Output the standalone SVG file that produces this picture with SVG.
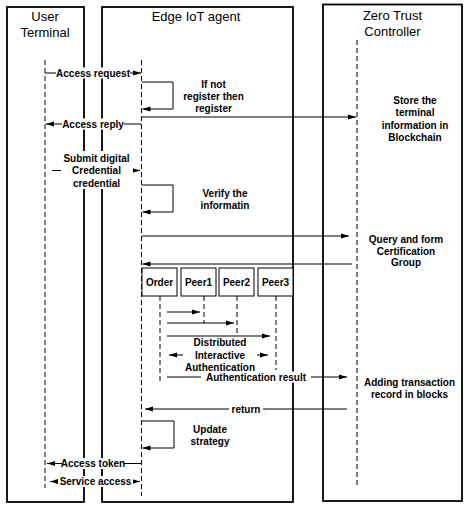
<svg xmlns="http://www.w3.org/2000/svg" width="469" height="508" viewBox="0 0 469 508">
<style>
.box{fill:none;stroke:#000;stroke-width:1.8}
.pbox{fill:#fff;stroke:#000;stroke-width:1}
.life{fill:none;stroke:#000;stroke-width:1;stroke-dasharray:5 3}
.msg{fill:none;stroke:#000;stroke-width:1}
.title{font-family:"Liberation Sans",Arial,sans-serif;font-size:13px;text-anchor:middle;dominant-baseline:central;fill:#000}
.lbl{font-family:"Liberation Sans",Arial,sans-serif;font-size:10px;font-weight:bold;text-anchor:middle;dominant-baseline:central;fill:#000}
.bg{fill:#fff}
</style>
<defs>
<marker id="ah" markerWidth="8" markerHeight="6" refX="8" refY="3" orient="auto-start-reverse" markerUnits="userSpaceOnUse">
<path d="M0,0.6 L8,3 L0,5.4 z" fill="#000"/>
</marker>
</defs>
<rect width="469" height="508" fill="#fff"/>

<g id="user-terminal">
<rect class="box" x="7" y="7" width="77" height="495"/>
<text class="title" x="45" y="16">User</text>
<text class="title" x="45" y="32">Terminal</text>
<line class="life" x1="45" y1="60" x2="45" y2="488"/>
</g>

<g id="edge-agent">
<rect class="box" x="102" y="7" width="191" height="495"/>
<text class="title" x="196" y="16">Edge IoT agent</text>
<line class="life" x1="141.5" y1="60" x2="141.5" y2="496"/>
</g>

<g id="zero-trust-controller">
<rect class="box" x="323" y="4.5" width="139" height="496.5"/>
<text class="title" x="392.5" y="15">Zero Trust</text>
<text class="title" x="392.5" y="31">Controller</text>
<line class="life" x1="357" y1="40" x2="357" y2="487"/>
</g>

<g id="order">
<rect class="pbox" x="142" y="268" width="35" height="28"/>
<text class="lbl" x="159.5" y="282">Order</text>
<line class="life" x1="160" y1="296" x2="160" y2="384"/>
</g>
<g id="peer1">
<rect class="pbox" x="181" y="268" width="35" height="28"/>
<text class="lbl" x="198.5" y="282">Peer1</text>
<line class="life" x1="204" y1="296" x2="204" y2="323"/>
</g>
<g id="peer2">
<rect class="pbox" x="219" y="268" width="35" height="28"/>
<text class="lbl" x="236.5" y="282">Peer2</text>
<line class="life" x1="237" y1="296" x2="237" y2="333"/>
</g>
<g id="peer3">
<rect class="pbox" x="258" y="268" width="35" height="28"/>
<text class="lbl" x="275.5" y="282">Peer3</text>
<line class="life" x1="276" y1="296" x2="276" y2="370"/>
</g>

<g id="connectors">
<line class="msg" x1="45" y1="73" x2="141" y2="73" marker-end="url(#ah)"/>
<path class="msg" d="M142,82 H173 V109 H142.5" marker-end="url(#ah)"/>
<line class="msg" x1="142" y1="117" x2="356" y2="117" marker-end="url(#ah)"/>
<line class="msg" x1="141" y1="124" x2="46" y2="124" marker-end="url(#ah)"/>
<line class="msg" x1="52" y1="170.5" x2="140" y2="170.5" marker-end="url(#ah)"/>
<path class="msg" d="M142,185 H173 V212 H142.5" marker-end="url(#ah)"/>
<line class="msg" x1="142" y1="236" x2="349" y2="236" marker-end="url(#ah)"/>
<line class="msg" x1="352" y1="264" x2="142.5" y2="264" marker-end="url(#ah)"/>
<line class="msg" x1="167" y1="312" x2="200" y2="312" marker-end="url(#ah)"/>
<line class="msg" x1="167" y1="323" x2="234" y2="323" marker-end="url(#ah)"/>
<line class="msg" x1="167" y1="336" x2="270" y2="336" marker-end="url(#ah)"/>
<line class="msg" x1="169" y1="355" x2="268" y2="355" marker-start="url(#ah)" marker-end="url(#ah)"/>
<line class="msg" x1="167" y1="377" x2="347" y2="377" marker-end="url(#ah)"/>
<line class="msg" x1="347" y1="409" x2="145" y2="409" marker-end="url(#ah)"/>
<path class="msg" d="M142,421 H174 V448 H142.5" marker-end="url(#ah)"/>
<line class="msg" x1="141" y1="463.5" x2="47" y2="463.5" marker-end="url(#ah)"/>
<line class="msg" x1="50" y1="481.5" x2="140" y2="481.5" marker-start="url(#ah)" marker-end="url(#ah)"/>

<rect class="bg" x="56" y="67.5" width="74" height="11"/>
<text class="lbl" x="93" y="73">Access request</text>
<rect class="bg" x="62" y="118.5" width="62" height="11"/>
<text class="lbl" x="93" y="124">Access reply</text>
<rect class="bg" x="61" y="151" width="72" height="38"/>
<text class="lbl" x="96.5" y="158">Submit digital</text>
<text class="lbl" x="96.5" y="170.5">Credential</text>
<text class="lbl" x="96.5" y="183">credential</text>
<rect class="bg" x="183" y="337.5" width="74" height="35"/>
<text class="lbl" x="220" y="342.5">Distributed</text>
<text class="lbl" x="220" y="355">Interactive</text>
<text class="lbl" x="220" y="367">Authentication</text>
<rect class="bg" x="201" y="371.5" width="110" height="11"/>
<text class="lbl" x="256" y="377">Authentication result</text>
<rect class="bg" x="229" y="403.5" width="34" height="11"/>
<text class="lbl" x="246" y="409">return</text>
<rect class="bg" x="62" y="458" width="62" height="11"/>
<text class="lbl" x="93" y="463.5">Access token</text>
<rect class="bg" x="58" y="476" width="75" height="11"/>
<text class="lbl" x="95.5" y="481.5">Service access</text>
</g>

<g id="notes">
<text class="lbl" x="213.5" y="84">If not</text>
<text class="lbl" x="213.5" y="96.5">register then</text>
<text class="lbl" x="213.5" y="108.5">register</text>
<text class="lbl" x="415" y="100">Store the</text>
<text class="lbl" x="415" y="112.5">terminal</text>
<text class="lbl" x="415" y="125">information in</text>
<text class="lbl" x="415" y="137.5">Blockchain</text>
<text class="lbl" x="225" y="193">Verify the</text>
<text class="lbl" x="225" y="205">informatin</text>
<text class="lbl" x="406" y="239">Query and form</text>
<text class="lbl" x="406" y="251">Certification</text>
<text class="lbl" x="406" y="262.5">Group</text>
<text class="lbl" x="409.5" y="382">Adding transaction</text>
<text class="lbl" x="409.5" y="394">record in blocks</text>
<text class="lbl" x="210" y="429">Update</text>
<text class="lbl" x="210" y="441">strategy</text>
</g>
</svg>
